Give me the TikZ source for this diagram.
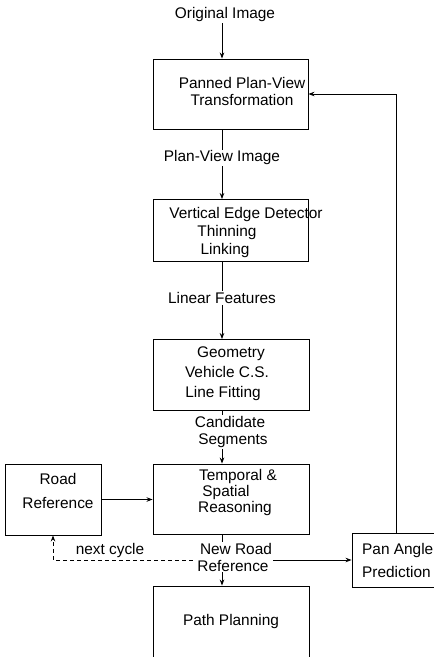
\documentclass[tikz,border=0pt]{standalone}
\usepackage{fontspec}
\setmainfont{Liberation Sans}
\usetikzlibrary{arrows.meta}
\begin{document}
\begin{tikzpicture}[x=1pt,y=-1pt,
  every node/.style={font=\fontsize{15.4}{17}\selectfont},
  blk/.style={draw,line width=0.9pt,minimum width=#1,inner sep=0pt},
  txt/.style={align=center,inner sep=1pt},
  wire/.style={line width=0.8pt},
  arr/.style={wire,-{Stealth[length=6pt,width=4.5pt]}}]
\useasboundingbox (0,0) rectangle (434,657);
\clip (0,0) rectangle (434,657);

% processing chain boxes
\node[blk=155pt,minimum height=70pt] (b1) at (230.5,94) {};
\node[blk=155pt,minimum height=62pt] (b2) at (230.5,230.5) {};
\node[blk=156pt,minimum height=71pt] (b3) at (231,375) {};
\node[blk=156pt,minimum height=70pt] (b4) at (231,499) {};
\node[blk=156pt,minimum height=90pt] (pp) at (231,631) {};
\node[blk=96pt,minimum height=71pt] (rr) at (53,499.5) {};
\node[blk=90pt,minimum height=54pt] (pan) at (397,560) {};

% box texts
\node[txt] (t1) at (242,91) {Panned Plan-View\\Transformation};
\node[txt,font=\fontsize{15.4}{18.5}\selectfont] (t2) at (246,233) {Vertical Edge Detector\\[-1pt]\hspace*{-38pt}Thinning\\\hspace*{-42pt}Linking};
\node[txt,font=\fontsize{15.4}{20}\selectfont] (t3) at (227,374) {\hspace*{8pt}Geometry\\Vehicle C.S.\\\hspace*{-8pt}Line Fitting};
\node[txt,font=\fontsize{15.4}{16}\selectfont] (t4) at (235,493) {\hspace*{6pt}Temporal \&\\\hspace*{-18pt}Spatial\\Reasoning};
\node[txt,font=\fontsize{15.4}{24}\selectfont] (t5) at (58,491) {Road\\Reference};
\node[txt] (t6) at (231,622) {Path Planning};
\node[txt,align=left,anchor=west,font=\fontsize{15.4}{23}\selectfont] (t7) at (361,560) {Pan Angle\\Prediction};

% data labels on the spine
\node[txt] (orig) at (225,15) {Original Image};
\node[txt] (pvi) at (222,158) {Plan-View Image};
\node[txt] (lf) at (222,298) {Linear Features};
\node[txt] (cs) at (230,432) {Candidate\\\hspace*{6pt}Segments};
\node[txt] (nrr) at (233,557) {\hspace*{6pt}New Road\\Reference};
\node[txt] (nc) at (110,551) {next cycle};

\coordinate (spine) at (222,0);
\coordinate (back) at (53,560);
\coordinate (up) at (396,94);

% main flow
\draw[arr] (orig.south -| spine) -- (b1.north -| spine);
\draw[wire] (b1.south -| spine) -- (pvi.north -| spine);
\draw[arr] (pvi.south -| spine) -- (b2.north -| spine);
\draw[wire] (b2.south -| spine) -- (lf.north -| spine);
\draw[arr] (lf.south -| spine) -- (b3.north -| spine);
\draw[wire] (b3.south -| spine) -- (cs.north -| spine);
\draw[arr] (cs.south -| spine) -- (b4.north -| spine);
\draw[wire] (b4.south -| spine) -- (nrr.north -| spine);
\draw[arr] (nrr.south -| spine) -- (pp.north -| spine);

% feedback paths
\draw[arr] (rr.east) -- (b4.west |- rr.east);
\draw[wire,dashed,dash pattern=on 4pt off 3pt,-{Stealth[length=6pt,width=4.5pt]}]
  (nrr.west |- back) -- (back) -- (rr.south -| back);
\draw[arr] (nrr.east |- pan.west) -- (pan.west);
\draw[arr] (pan.north -| up) -- (up) -- (b1.east |- up);
\end{tikzpicture}
\end{document}
